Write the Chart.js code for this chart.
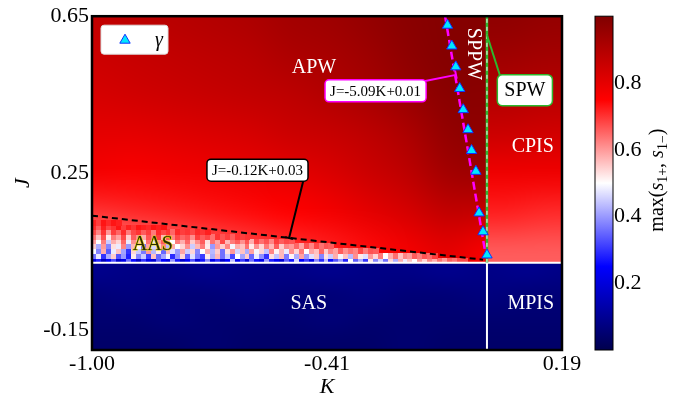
<!DOCTYPE html>
<html>
<head>
<meta charset="utf-8">
<script src="https://cdn.jsdelivr.net/npm/chart.js@4.4.1/dist/chart.umd.min.js"></script>
<style>
  html, body { margin: 0; padding: 0; background: #fff; }
</style>
</head>
<body>
<canvas id="phaseChart" width="687" height="401"></canvas>
<script>
// axis ticks
const kTicks = [-1.0, -0.405, 0.19];
const kTickLabels = ['-1.00', '-0.41', '0.19'];
const jTicks = [-0.15, 0.25, 0.65];
const jTickLabels = ['-0.15', '0.25', '0.65'];
const cbTicks = [0.2, 0.4, 0.6, 0.8];

// gamma points (triangles)
const gammaK = [-0.100, -0.089, -0.079, -0.069, -0.060, -0.048, -0.039, -0.028, -0.020, -0.010, 0.000];
const gammaJ = [0.627, 0.574, 0.521, 0.466, 0.412, 0.361, 0.308, 0.255, 0.149, 0.101, 0.042];

// fitted lines and phase boundaries
const fitSteepK = [-0.106, -0.002];
const fitSteepJ = [0.65, 0.035];
const fitFlatK = [-1.0, -0.01];
const fitFlatJ = [0.142, 0.03];
const boundaryJ = 0.022;

// heat map, K < 0 and J above boundary (rows top -> bottom)
const upperK = [-1.0, -0.9, -0.8, -0.7, -0.6, -0.5, -0.4, -0.3, -0.2, -0.1, 0.0];
const upperJ = [0.65, 0.55, 0.45, 0.35, 0.25, 0.15, 0.05];
const upperVals = [
  [.87, .88, .89, .90, .91, .93, .94, .96, .98, .99, .99],
  [.85, .86, .87, .88, .89, .91, .92, .94, .97, .99, .99],
  [.83, .84, .85, .86, .87, .88, .90, .92, .95, .98, .98],
  [.80, .80, .81, .82, .83, .85, .86, .88, .91, .96, .97],
  [.77, .76, .77, .78, .79, .80, .82, .85, .88, .93, .94],
  [.70, .71, .72, .73, .74, .75, .77, .80, .83, .87, .86],
  [.60, .62, .64, .66, .68, .70, .72, .74, .77, .80, .76]
];

// heat map, K > 0 and J above boundary
const rightK = [0.05, 0.15];
const rightVals = [
  [.97, .96],
  [.94, .93],
  [.90, .89],
  [.85, .84],
  [.78, .78],
  [.72, .71],
  [.66, .66]
];

// heat map below the boundary
const lowerK = [-1.0, -0.9, -0.8, -0.7, -0.6, -0.5, -0.4, -0.3, -0.2, -0.1, 0.0, 0.1, 0.2];
const lowerJ = [0.0, -0.06, -0.12, -0.18];
const lowerVals = [
  [.09, .08, .08, .09, .08, .08, .09, .08, .08, .09, .08, .09, .08],
  [.06, .07, .06, .06, .07, .06, .06, .07, .06, .06, .07, .06, .06],
  [.05, .05, .06, .05, .05, .05, .06, .05, .05, .05, .05, .05, .05],
  [.04, .04, .04, .05, .04, .04, .04, .04, .05, .04, .04, .04, .04]
];

// noisy AAS cells: row edges in J, columns of width 0.0125 from K = -1
const noiseJ = [0.022, 0.034, 0.046, 0.058, 0.070, 0.082, 0.094, 0.106, 0.118, 0.130];
const noiseVals = [
  [.20, .28, .16, .24, .32, .18, .22, .36, .26, .17, .30, .22, .19, .34, .25, .21, .40, .27, .18, .24,
   .33, .20, .27, .38, .22, .29, .18, .25, .44, .23, .31, .20, .36, .26, .22, .40, .28, .24, .19, .34,
   .27, .46, .25, .31, .22, .38, .29, .43, .26, .33, .40, .28, .50, .34, .42, .30, .52, .38, .46, .36,
   .54, .42, .58, .48, .56, .50, .60, .54, .62, .58, .64, .60, .66, .64, .68, .68],
  [.36, .48, .30, .42, .55, .33, .40, .28, .52, .38, .45, .31, .56, .35, .41, .49, .29, .39, .54, .34,
   .47, .37, .31, .52, .42, .57, .36, .45, .32, .50, .41, .55, .35, .48, .39, .30, .53, .44, .57, .37,
   .51, .42, .59, .40, .47, .55, .38, .53, .45, .58, .49, .56, .43, .61, .52, .47, .60, .54, .63, .50,
   .58, .64, .56, .62, .60, .66, .63, .67, .65, .69],
  [.50, .38, .58, .34, .48, .56, .41, .30, .54, .45, .37, .60, .43, .52, .35, .57, .47, .40, .59, .45,
   .54, .38, .50, .58, .43, .55, .36, .53, .60, .46, .56, .42, .59, .49, .54, .44, .62, .51, .57, .48,
   .61, .54, .63, .50, .59, .56, .65, .55, .62, .59, .66, .61, .64, .62, .68, .63, .67, .66],
  [.55, .42, .60, .38, .53, .48, .62, .40, .57, .51, .36, .59, .46, .55, .62, .43, .58, .50, .54, .61,
   .45, .57, .63, .52, .40, .60, .55, .62, .49, .58, .56, .64, .52, .61, .54, .63, .57, .66, .55, .62,
   .60, .65, .59, .67, .62, .68, .64, .67, .66],
  [.60, .50, .63, .45, .58, .54, .65, .48, .61, .56, .52, .64, .47, .60, .66, .57, .50, .63, .58, .65,
   .55, .61, .66, .53, .64, .59, .68, .57, .63, .66, .61, .67, .58, .68, .64, .67, .62, .69, .66, .68,
   .67],
  [.64, .56, .67, .52, .63, .59, .68, .55, .66, .61, .58, .67, .63, .69, .57, .66, .62, .68, .65, .67,
   .61, .69, .66, .68, .64, .70, .67, .69, .66, .70, .69, .70],
  [.68, .62, .70, .60, .69, .65, .71, .63, .68, .70, .66, .69, .63, .71, .68, .70, .65, .71, .69, .70,
   .68, .71, .70, .72],
  [.71, .66, .72, .68, .70, .73, .69, .72, .70, .73, .72, .71, .73, .72, .73],
  [.72, .69, .73, .71, .73, .72]
];
const noiseK0 = -1.0;
const noiseDK = 0.0125;

const serif = '"Liberation Serif", "DejaVu Serif", serif';

function seismic(v) {
  v = Math.max(0, Math.min(1, v));
  let r, g, b;
  if (v < 0.25) { r = 0; g = 0; b = 0.3 + 0.7 * v / 0.25; }
  else if (v < 0.5) { const t = (v - 0.25) / 0.25; r = t; g = t; b = 1; }
  else if (v < 0.75) { const t = (v - 0.5) / 0.25; r = 1; g = 1 - t; b = 1 - t; }
  else { const t = (v - 0.75) / 0.25; r = 1 - 0.5 * t; g = 0; b = 0; }
  return [Math.round(r * 255), Math.round(g * 255), Math.round(b * 255)];
}

function drawField(chart, ks, js, vals, kLo, kHi, jLo, jHi) {
  const { ctx, scales: { x, y } } = chart;
  const nc = ks.length, nr = js.length;
  const off = document.createElement('canvas');
  off.width = nc; off.height = nr;
  const octx = off.getContext('2d');
  const img = octx.createImageData(nc, nr);
  vals.forEach((row, i) => row.forEach((v, j) => {
    const c = seismic(v), p = (i * nc + j) * 4;
    img.data[p] = c[0]; img.data[p + 1] = c[1]; img.data[p + 2] = c[2]; img.data[p + 3] = 255;
  }));
  octx.putImageData(img, 0, 0);
  const dk = nc > 1 ? (ks[nc - 1] - ks[0]) / (nc - 1) : 0.1;
  const dj = nr > 1 ? (js[0] - js[nr - 1]) / (nr - 1) : 0.1;
  const left = x.getPixelForValue(ks[0] - dk / 2), right = x.getPixelForValue(ks[nc - 1] + dk / 2);
  const top = y.getPixelForValue(js[0] + dj / 2), bottom = y.getPixelForValue(js[nr - 1] - dj / 2);
  const cl = x.getPixelForValue(kLo), cr = x.getPixelForValue(kHi);
  const ct = y.getPixelForValue(jHi), cb = y.getPixelForValue(jLo);
  ctx.save();
  ctx.beginPath();
  ctx.rect(cl, ct, cr - cl, cb - ct);
  ctx.clip();
  ctx.imageSmoothingEnabled = true;
  ctx.imageSmoothingQuality = 'high';
  ctx.drawImage(off, left, top, right - left, bottom - top);
  ctx.restore();
}

function textBox(ctx, text, cx, cy, font, border) {
  ctx.font = font;
  const w = ctx.measureText(text).width + 10, h = 22;
  ctx.beginPath();
  ctx.roundRect(cx - w / 2, cy - h / 2, w, h, 4);
  ctx.fillStyle = '#fff';
  ctx.fill();
  ctx.lineWidth = 1.5;
  ctx.strokeStyle = border;
  ctx.stroke();
  ctx.fillStyle = '#000';
  ctx.textAlign = 'center';
  ctx.textBaseline = 'middle';
  ctx.fillText(text, cx, cy + 1);
}

function arrowBar(ctx, x0, y0, x1, y1, color) {
  ctx.strokeStyle = color;
  ctx.lineWidth = 2;
  ctx.beginPath();
  ctx.moveTo(x0, y0);
  ctx.lineTo(x1, y1);
  const a = Math.atan2(y1 - y0, x1 - x0), l = 4;
  ctx.moveTo(x1 + Math.sin(a) * l, y1 - Math.cos(a) * l);
  ctx.lineTo(x1 - Math.sin(a) * l, y1 + Math.cos(a) * l);
  ctx.stroke();
}

const heatmapPlugin = {
  id: 'heatmap',
  beforeDatasetsDraw(chart) {
    const { ctx, scales: { x, y } } = chart;
    drawField(chart, upperK, upperJ, upperVals, -1.0, 0.0, boundaryJ, 0.65);
    drawField(chart, rightK, upperJ, rightVals, 0.0, 0.19, boundaryJ, 0.65);
    drawField(chart, lowerK, lowerJ, lowerVals, -1.0, 0.19, -0.2, boundaryJ);
    noiseVals.forEach((row, r) => row.forEach((v, c) => {
      const k0 = noiseK0 + c * noiseDK;
      const px0 = Math.floor(x.getPixelForValue(k0)), px1 = Math.ceil(x.getPixelForValue(k0 + noiseDK));
      const py0 = Math.floor(y.getPixelForValue(noiseJ[r + 1])), py1 = Math.ceil(y.getPixelForValue(noiseJ[r]));
      const col = seismic(v);
      ctx.fillStyle = `rgb(${col[0]},${col[1]},${col[2]})`;
      ctx.fillRect(px0, py0, px1 - px0, py1 - py0);
    }));
  },
  afterDatasetsDraw(chart) {
    const { ctx, chartArea: area, scales: { x, y } } = chart;
    const px = k => x.getPixelForValue(k), py = j => y.getPixelForValue(j);
    ctx.save();

    // region labels
    ctx.textAlign = 'center';
    ctx.textBaseline = 'middle';
    ctx.font = '20px ' + serif;
    ctx.fillStyle = '#fff';
    ctx.fillText('APW', px(-0.438), py(0.518));
    ctx.fillText('CPIS', px(0.116), py(0.318));
    ctx.fillText('SAS', px(-0.451), py(-0.082));
    ctx.fillText('MPIS', px(0.111), py(-0.082));
    ctx.save();
    ctx.translate(px(-0.035), py(0.554));
    ctx.rotate(Math.PI / 2);
    ctx.fillText('SPPW', 0, 0);
    ctx.restore();
    ctx.lineWidth = 1.2;
    ctx.strokeStyle = 'rgba(225,215,0,0.9)';
    ctx.strokeText('AAS', px(-0.846), py(0.068));
    ctx.fillStyle = '#2a2a00';
    ctx.fillText('AAS', px(-0.846), py(0.068));

    // fit labels
    arrowBar(ctx, px(-0.166), py(0.483), px(-0.0785), py(0.5006), '#ff00ff');
    textBox(ctx, 'J=-5.09K+0.01', px(-0.282), py(0.46), '15px ' + serif, '#ff00ff');
    arrowBar(ctx, px(-0.465), py(0.231), px(-0.501), py(0.085), '#000');
    textBox(ctx, 'J=-0.12K+0.03', px(-0.581), py(0.258), '15px ' + serif, '#000');
    ctx.strokeStyle = '#2db82d';
    ctx.lineWidth = 2;
    ctx.beginPath();
    ctx.moveTo(px(0.038), py(0.483));
    ctx.lineTo(px(0.0), py(0.602));
    ctx.stroke();
    ctx.font = '20px ' + serif;
    const sw = ctx.measureText('SPW').width + 14;
    ctx.beginPath();
    ctx.roundRect(px(0.096) - sw / 2, py(0.463) - 15, sw, 31, 5);
    ctx.fillStyle = '#fff';
    ctx.fill();
    ctx.lineWidth = 1.5;
    ctx.strokeStyle = '#2db82d';
    ctx.stroke();
    ctx.fillStyle = '#000';
    ctx.fillText('SPW', px(0.096), py(0.463) + 1);

    // legend
    ctx.beginPath();
    ctx.roundRect(area.left + 9, area.top + 9, 67, 29, 3);
    ctx.fillStyle = '#fff';
    ctx.fill();
    ctx.lineWidth = 1;
    ctx.strokeStyle = '#ddd';
    ctx.stroke();
    const tx = area.left + 33, ty = area.top + 24, r = 6;
    ctx.beginPath();
    ctx.moveTo(tx, ty - r);
    ctx.lineTo(tx + r * 0.866, ty + r / 2);
    ctx.lineTo(tx - r * 0.866, ty + r / 2);
    ctx.closePath();
    ctx.fillStyle = '#00e8ff';
    ctx.fill();
    ctx.strokeStyle = '#1030ff';
    ctx.stroke();
    ctx.font = 'italic 20px ' + serif;
    ctx.fillStyle = '#000';
    ctx.fillText('γ', area.left + 67, area.top + 25);

    // frame
    ctx.lineWidth = 2.5;
    ctx.strokeStyle = '#000';
    ctx.strokeRect(area.left, area.top, area.right - area.left, area.bottom - area.top);

    // colorbar
    const cbs = chart.scales.cb;
    const bx = cbs.left + 33, bw = 18;
    const bTop = cbs.getPixelForValue(1), bBot = cbs.getPixelForValue(0);
    const grad = ctx.createLinearGradient(0, bBot, 0, bTop);
    [0, 0.25, 0.5, 0.75, 1].forEach(v => {
      const c = seismic(v);
      grad.addColorStop(v, `rgb(${c[0]},${c[1]},${c[2]})`);
    });
    ctx.fillStyle = grad;
    ctx.fillRect(bx, bTop, bw, bBot - bTop);
    ctx.lineWidth = 1;
    ctx.strokeStyle = '#000';
    ctx.strokeRect(bx, bTop, bw, bBot - bTop);

    // colorbar title max(s1+, s1-)
    const runs = [
      { t: 'max(', f: '20px ' + serif, dy: 0 },
      { t: 's', f: 'italic 20px ' + serif, dy: 0 },
      { t: '1+', f: '14px ' + serif, dy: 4 },
      { t: ', ', f: '20px ' + serif, dy: 0 },
      { t: 's', f: 'italic 20px ' + serif, dy: 0 },
      { t: '1\u2212', f: '14px ' + serif, dy: 4 },
      { t: ')', f: '20px ' + serif, dy: 0 }
    ];
    let total = 0;
    runs.forEach(run => { ctx.font = run.f; run.w = ctx.measureText(run.t).width; total += run.w; });
    ctx.translate(cbs.left + 101, (bTop + bBot) / 2 - 3);
    ctx.rotate(-Math.PI / 2);
    ctx.textAlign = 'left';
    ctx.textBaseline = 'alphabetic';
    ctx.fillStyle = '#000';
    let cx = -total / 2;
    runs.forEach(run => { ctx.font = run.f; ctx.fillText(run.t, cx, run.dy); cx += run.w; });
    ctx.restore();
  }
};

const pts = (ks, js) => ks.map((k, i) => ({ x: k, y: js[i] }));

new Chart(document.getElementById('phaseChart'), {
  type: 'scatter',
  data: {
    datasets: [
      {
        label: 'γ',
        data: pts(gammaK, gammaJ),
        pointStyle: 'triangle',
        pointRadius: 6,
        backgroundColor: '#00e8ff',
        borderColor: '#1030ff',
        borderWidth: 1,
        order: 0
      },
      {
        label: 'J=-5.09K+0.01',
        data: pts(fitSteepK, fitSteepJ),
        showLine: true,
        borderColor: '#ff00ff',
        borderWidth: 2.5,
        borderDash: [8, 4],
        pointRadius: 0,
        order: 1
      },
      {
        label: 'J=-0.12K+0.03',
        data: pts(fitFlatK, fitFlatJ),
        showLine: true,
        borderColor: '#000',
        borderWidth: 2,
        borderDash: [6, 4],
        pointRadius: 0,
        order: 2
      },
      {
        label: 'SPW dashes',
        data: pts([0, 0], [boundaryJ, 0.65]),
        showLine: true,
        borderColor: '#fff',
        borderWidth: 1,
        borderDash: [4, 4],
        pointRadius: 0,
        order: 3
      },
      {
        label: 'SPW',
        data: pts([0, 0], [boundaryJ, 0.65]),
        showLine: true,
        borderColor: '#2db82d',
        borderWidth: 2.5,
        pointRadius: 0,
        order: 4
      },
      {
        label: 'boundary',
        data: pts([-1.0, 0.19], [boundaryJ, boundaryJ]),
        showLine: true,
        borderColor: '#fff',
        borderWidth: 2,
        pointRadius: 0,
        order: 5
      },
      {
        label: 'MPIS boundary',
        data: pts([0, 0], [-0.2, boundaryJ]),
        showLine: true,
        borderColor: '#fff',
        borderWidth: 2,
        pointRadius: 0,
        order: 5
      }
    ]
  },
  options: {
    responsive: false,
    devicePixelRatio: 1,
    animation: false,
    layout: { padding: { top: 14, left: 0, right: 0, bottom: 0 } },
    plugins: {
      legend: { display: false },
      tooltip: { enabled: false }
    },
    scales: {
      x: {
        type: 'linear',
        min: -1.0,
        max: 0.19,
        afterBuildTicks: s => { s.ticks = kTicks.map(v => ({ value: v })); },
        afterFit: s => { s.height = 51; },
        grid: { display: false, drawTicks: false },
        border: { display: false },
        ticks: {
          autoSkip: false,
          maxRotation: 0,
          padding: 1,
          color: '#000',
          font: { family: serif, size: 22 },
          callback: (v, i) => kTickLabels[i]
        },
        title: {
          display: true,
          text: 'K',
          color: '#000',
          font: { family: serif, size: 22, style: 'italic' },
          padding: { top: 0, bottom: 1 }
        }
      },
      y: {
        type: 'linear',
        min: -0.2,
        max: 0.65,
        afterBuildTicks: s => { s.ticks = jTicks.map(v => ({ value: v })); },
        afterFit: s => { s.width = 92; },
        grid: { display: false, drawTicks: false },
        border: { display: false },
        ticks: {
          autoSkip: false,
          padding: 3,
          color: '#000',
          font: { family: serif, size: 22 },
          callback: (v, i) => jTickLabels[i]
        },
        title: {
          display: true,
          text: 'J',
          color: '#000',
          font: { family: serif, size: 22, style: 'italic' },
          padding: { top: 10, bottom: 0 }
        }
      },
      cb: {
        type: 'linear',
        position: 'right',
        min: 0,
        max: 1,
        afterBuildTicks: s => { s.ticks = cbTicks.map(v => ({ value: v })); },
        afterFit: s => { s.width = 125; s.paddingTop = 0; s.paddingBottom = 0; },
        grid: { display: false, drawTicks: false },
        border: { display: false },
        ticks: {
          autoSkip: false,
          padding: 52,
          color: '#000',
          font: { family: serif, size: 22 },
          callback: v => v.toFixed(1)
        }
      }
    }
  },
  plugins: [heatmapPlugin]
});
</script>
</body>
</html>
